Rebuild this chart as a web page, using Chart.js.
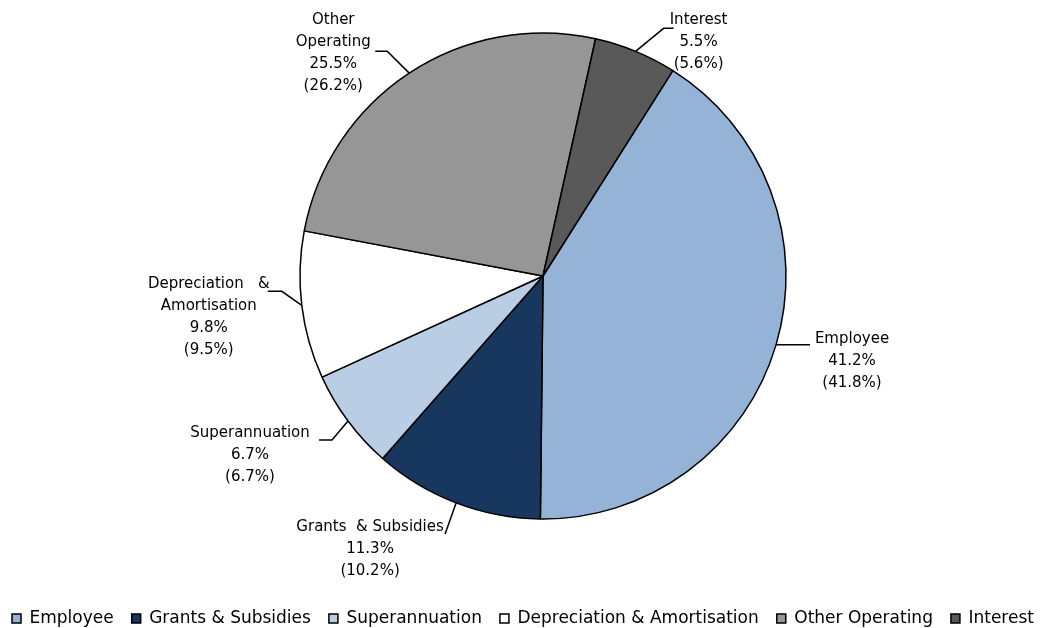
<!DOCTYPE html>
<html>
<head>
<meta charset="utf-8">
<script src="https://cdn.jsdelivr.net/npm/chart.js@4.4.1/dist/chart.umd.min.js"></script>
<style>
  html, body { margin: 0; padding: 0; background: #fff; }
  #wrap { width: 1040px; height: 628px; }
</style>
</head>
<body>
<div id="wrap"><canvas id="pie"></canvas></div>
<script>
const categories = ['Employee', 'Grants & Subsidies', 'Superannuation', 'Depreciation & Amortisation', 'Other Operating', 'Interest'];
const shares = [41.2, 11.3, 6.7, 9.8, 25.5, 5.5];
const priorShares = [41.8, 10.2, 6.7, 9.5, 26.2, 5.6];
const colours = ['#95B3D7', '#17375E', '#B9CDE5', '#FFFFFF', '#969696', '#595959'];

// label lines for each slice (the name is split as it is wrapped)
const labelLines = [['Employee'], ['Grants  & Subsidies'], ['Superannuation'], ['Depreciation   &', 'Amortisation'], ['Other', 'Operating'], ['Interest']];
// text centre and leader elbow, relative to the slice's edge midpoint
const labelPlace = [
  { tx: 76, ty: 16, ex: 34, ey: 0, end: 0 },
  { tx: -86, ty: 46, ex: -11, ey: 31, end: 0 },
  { tx: -98, ty: 34, ex: -16, ey: 19, end: -13 },
  { tx: -93, ty: 12, ex: -20, ey: -14, end: -14 },
  { tx: -76, ty: -20, ex: -22, ey: -22, end: -12 },
  { tx: 63, ty: -9, ex: 28, ey: -23, end: 10 }
];

// empty box on the left so the pie sits right of centre while the legend keeps the full width
const leftSpacer = {
  id: 'leftSpacer',
  beforeInit(chart) {
    Chart.layouts.addBox(chart, {
      position: 'left',
      fullSize: false,
      weight: 0,
      options: {},
      isHorizontal() { return false; },
      getPadding() { return { top: 0, left: 0, right: 0, bottom: 0 }; },
      update(maxWidth, maxHeight) {
        this.width = 52;
        this.height = maxHeight;
      },
      draw() {}
    });
  }
};

const outerLabels = {
  id: 'outerLabels',
  afterDatasetsDraw(chart) {
    const ctx = chart.ctx;
    const meta = chart.getDatasetMeta(0);
    ctx.save();
    ctx.font = '15px "DejaVu Sans", Verdana, sans-serif';
    ctx.fillStyle = '#000';
    ctx.strokeStyle = '#000';
    ctx.lineWidth = 1.5;
    ctx.textAlign = 'center';
    ctx.textBaseline = 'middle';
    meta.data.forEach((arc, i) => {
      const p = arc.getProps(['x', 'y', 'startAngle', 'endAngle', 'outerRadius'], true);
      const mid = (p.startAngle + p.endAngle) / 2;
      const ax = p.x + Math.cos(mid) * p.outerRadius;
      const ay = p.y + Math.sin(mid) * p.outerRadius;
      const pl = labelPlace[i];
      ctx.beginPath();
      ctx.moveTo(ax, ay);
      ctx.lineTo(ax + pl.ex, ay + pl.ey);
      if (pl.end) ctx.lineTo(ax + pl.ex + pl.end, ay + pl.ey);
      ctx.stroke();
      const lines = labelLines[i].concat([shares[i].toFixed(1) + '%', '(' + priorShares[i].toFixed(1) + '%)']);
      const lh = 22;
      const top = ay + pl.ty - (lines.length - 1) * lh / 2;
      lines.forEach((t, k) => ctx.fillText(t, ax + pl.tx, top + k * lh));
    });
    ctx.restore();
  }
};

new Chart(document.getElementById('pie'), {
  type: 'pie',
  data: {
    labels: categories,
    datasets: [{
      data: shares,
      backgroundColor: colours,
      borderColor: '#000',
      borderWidth: 1.5,
      radius: 243
    }]
  },
  options: {
    responsive: true,
    maintainAspectRatio: false,
    animation: false,
    rotation: 32.3,
    layout: { padding: { top: 0, left: -6, right: -52, bottom: -9 } },
    plugins: {
      tooltip: { enabled: false },
      legend: {
        position: 'bottom',
        align: 'start',
        // empty title only used as a spacer above the legend row
        title: { display: true, text: '', font: { size: 10 }, padding: { top: 0, bottom: 28 } },
        labels: {
          boxWidth: 9,
          boxHeight: 9,
          padding: 18,
          color: '#000',
          font: { family: '"DejaVu Sans", Verdana, sans-serif', size: 17 }
        }
      }
    }
  },
  plugins: [leftSpacer, outerLabels]
});
</script>
</body>
</html>
